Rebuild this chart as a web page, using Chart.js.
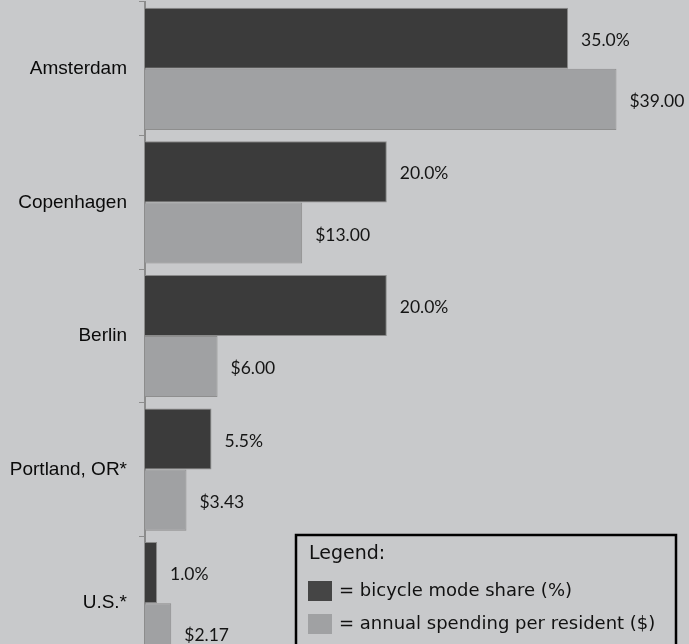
<!DOCTYPE html>
<html>
<head>
<meta charset="utf-8">
<script src="https://cdn.jsdelivr.net/npm/chart.js@4"></script>
<style>
  html, body { margin: 0; padding: 0; background: #c8c9cb; overflow: hidden; }
  #wrap { position: relative; width: 689px; height: 672px; }
</style>
</head>
<body>
<div id="wrap"><canvas id="bikeChart"></canvas></div>
<script>
const cities = ['Amsterdam', 'Copenhagen', 'Berlin', 'Portland, OR*', 'U.S.*'];
const modeShare = [35.0, 20.0, 20.0, 5.5, 1.0];
const spending = [39.00, 13.00, 6.00, 3.43, 2.17];
const seriesNames = ['= bicycle mode share (%)', '= annual spending per resident ($)'];

// value labels at the end of each bar
const valueLabels = {
  id: 'valueLabels',
  afterDatasetsDraw(chart) {
    const ctx = chart.ctx;
    ctx.save();
    ctx.font = '17.5px Lato, sans-serif';
    ctx.fillStyle = '#151515';
    ctx.textBaseline = 'middle';
    ctx.textAlign = 'left';
    chart.data.datasets.forEach((ds, i) => {
      chart.getDatasetMeta(i).data.forEach((bar, j) => {
        const v = ds.data[j];
        const txt = i === 0 ? v.toFixed(1) + '%' : '$' + v.toFixed(2);
        ctx.fillText(txt, bar.x + 13, bar.y + 2);
      });
    });
    ctx.restore();
  }
};

// boxed legend in the lower right
const boxLegend = {
  id: 'boxLegend',
  afterDraw(chart) {
    const ctx = chart.ctx;
    ctx.save();
    ctx.fillStyle = '#c8c9cb';
    ctx.fillRect(296, 535, 380, 200);
    ctx.strokeStyle = '#000';
    ctx.lineWidth = 2.5;
    ctx.strokeRect(296, 535, 380, 200);
    ctx.fillStyle = '#111';
    ctx.textBaseline = 'alphabetic';
    ctx.font = '19px "DejaVu Sans", sans-serif';
    ctx.fillText('Legend:', 309, 559);
    ctx.font = '18px "DejaVu Sans", sans-serif';
    const ys = [581, 614];
    chart.data.datasets.forEach((ds, i) => {
      ctx.fillStyle = i === 0 ? '#454545' : ds.backgroundColor;
      ctx.fillRect(308, ys[i], 24, 20);
      ctx.fillStyle = '#111';
      ctx.fillText(seriesNames[i], 339, ys[i] + 15);
    });
    ctx.restore();
  }
};

new Chart(document.getElementById('bikeChart'), {
  type: 'bar',
  data: {
    labels: cities,
    datasets: [
      { label: 'bicycle mode share (%)', data: modeShare, backgroundColor: '#3b3b3b', borderColor: '#8a8a8a', borderWidth: 1 },
      { label: 'annual spending per resident ($)', data: spending, backgroundColor: '#a0a1a3', borderColor: '#8e8e8e', borderWidth: 1 }
    ]
  },
  options: {
    indexAxis: 'y',
    responsive: true,
    maintainAspectRatio: false,
    animation: false,
    categoryPercentage: 0.915,
    barPercentage: 1.0,
    layout: { padding: { top: 2, bottom: 2, left: 0, right: 0 } },
    plugins: { legend: { display: false }, tooltip: { enabled: false } },
    scales: {
      x: { display: false, min: 0, max: 45 },
      y: {
        afterFit(scale) { scale.width = 145; scale.paddingTop = 0; scale.paddingBottom = 0; },
        grid: { display: true, drawOnChartArea: false, drawTicks: true, tickLength: 6, color: '#8c8c8c', offset: true },
        border: { display: true, color: '#8c8c8c', width: 2 },
        ticks: { color: '#0a0a0a', padding: 12, font: { family: '"Liberation Sans", Arial, sans-serif', size: 19 } }
      }
    }
  },
  plugins: [valueLabels, boxLegend]
});
</script>
</body>
</html>
